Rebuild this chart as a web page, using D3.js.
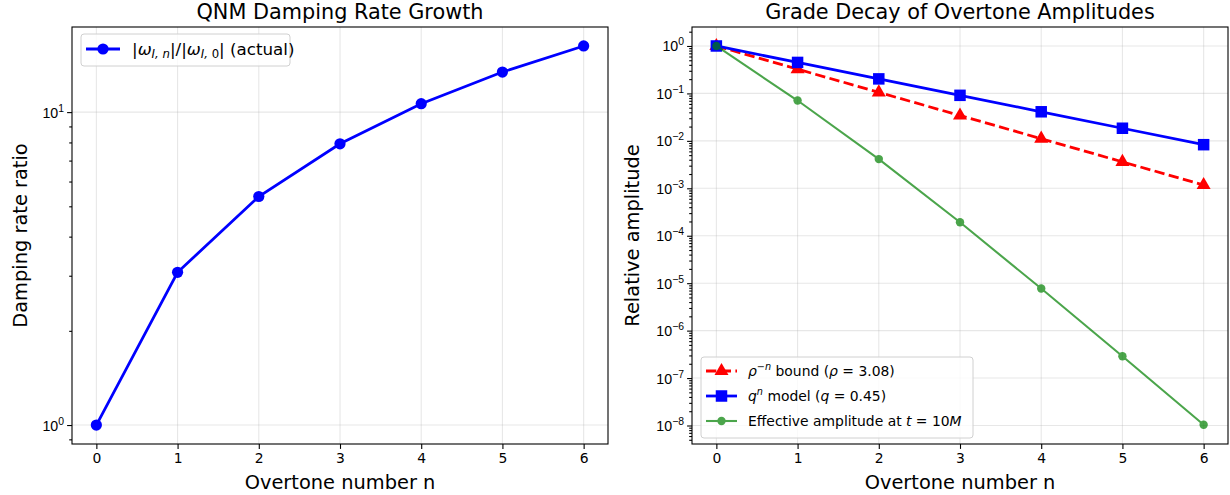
<!DOCTYPE html>
<html>
<head>
<meta charset="utf-8">
<script src="https://cdn.jsdelivr.net/npm/d3@7"></script>
<style>
  body { margin: 0; background: #fff; }
  svg { font-family: "DejaVu Sans", sans-serif; }
  .tick line { stroke: #000; stroke-width: 1.1; }
  .domain { display: none; }
</style>
</head>
<body>
<div id="chart"></div>
<script>
// overtone numbers
var overtones = [0, 1, 2, 3, 4, 5, 6];
// |omega_I,n| / |omega_I,0|
var dampingRatio = [1.0, 3.077, 5.374, 7.92, 10.64, 13.43, 16.27];
// rho^-n bound, rho = 3.08
var rhoBound = [1.0, 0.3247, 0.1054, 0.03422, 0.01111, 0.003608, 0.001171];
// q^n model, q = 0.45
var qModel = [1.0, 0.45, 0.2025, 0.09113, 0.04101, 0.01845, 0.008304];
// effective amplitude at t = 10M
var effAmp = [1.0, 0.0708, 0.00413, 1.92e-4, 7.7e-6, 2.88e-7, 1.04e-8];

var leftExps = [0, 1];
var rightExps = [0, -1, -2, -3, -4, -5, -6, -7, -8];

var W = 1230, H = 495;
var svg = d3.select("#chart").append("svg").attr("width", W).attr("height", H);

function supLabel(sel, exp) {
  sel.append("tspan").text("10");
  sel.append("tspan").attr("dy", -6).attr("font-size", 10.4)
    .text(exp < 0 ? "\u2212" + (-exp) : String(exp));
}

function makePanel(opt) {
  var g = svg.append("g");
  var x = d3.scaleLinear().domain([-0.3, 6.3]).range([opt.x0, opt.x1]);
  var y = d3.scaleLog().domain(opt.ydom).range([opt.y1, opt.y0]);
  var majors = opt.exps.map(function(e) { return Math.pow(10, e); });
  var minors = [];
  var lo = Math.floor(Math.log10(opt.ydom[0])), hi = Math.ceil(Math.log10(opt.ydom[1]));
  for (var e = lo; e < hi; e++) {
    for (var k = 2; k <= 9; k++) {
      var v = k * Math.pow(10, e);
      if (v >= opt.ydom[0] && v <= opt.ydom[1]) minors.push(v);
    }
  }

  // grid
  g.append("g").selectAll("line").data(overtones).enter().append("line")
    .attr("x1", d => x(d)).attr("x2", d => x(d))
    .attr("y1", opt.y0).attr("y2", opt.y1)
    .attr("stroke", "#b0b0b0").attr("stroke-opacity", 0.3).attr("stroke-width", 1.1);
  g.append("g").selectAll("line").data(majors).enter().append("line")
    .attr("x1", opt.x0).attr("x2", opt.x1)
    .attr("y1", d => y(d)).attr("y2", d => y(d))
    .attr("stroke", "#b0b0b0").attr("stroke-opacity", 0.3).attr("stroke-width", 1.1);

  // axes
  var xa = g.append("g").attr("transform", "translate(0," + opt.y1 + ")")
    .call(d3.axisBottom(x).tickValues(overtones).tickSize(4.9).tickPadding(4).tickFormat(d3.format("d")));
  xa.selectAll("text").attr("font-size", 13.9).attr("fill", "#000").attr("font-family", "DejaVu Sans");

  var ya = g.append("g").attr("transform", "translate(" + opt.x0 + ",0)")
    .call(d3.axisLeft(y).tickValues(majors).tickSize(4.9).tickFormat(""));
  g.append("g").attr("transform", "translate(" + opt.x0 + ",0)")
    .call(d3.axisLeft(y).tickValues(minors).tickSize(2.8).tickFormat(""));
  ya.selectAll(".tick").each(function(d, i) {
    var t = d3.select(this).append("text")
      .attr("x", -8).attr("dy", "0.35em").attr("text-anchor", "end")
      .attr("font-size", 14.2).attr("fill", "#000");
    supLabel(t, opt.exps[i]);
  });

  // frame
  g.append("rect").attr("x", opt.x0).attr("y", opt.y0)
    .attr("width", opt.x1 - opt.x0).attr("height", opt.y1 - opt.y0)
    .attr("fill", "none").attr("stroke", "#000").attr("stroke-width", 1.1);

  // titles
  var cx = (opt.x0 + opt.x1) / 2;
  g.append("text").attr("x", cx).attr("y", 19).attr("text-anchor", "middle")
    .attr("font-size", 20.8).text(opt.title);
  g.append("text").attr("x", cx).attr("y", 489).attr("text-anchor", "middle")
    .attr("font-size", 19.4).text("Overtone number n");
  g.append("text").attr("transform", "translate(" + opt.ylabX + "," + ((opt.y0 + opt.y1) / 2) + ") rotate(-90)")
    .attr("text-anchor", "middle").attr("font-size", 19.4).text(opt.ylabel);

  return { g: g, x: x, y: y };
}

function drawSeries(p, vals, st) {
  var line = d3.line().x((d, i) => p.x(overtones[i])).y(d => p.y(d));
  var s = p.g.append("g").attr("opacity", st.alpha || 1);
  s.append("path").datum(vals).attr("d", line).attr("fill", "none")
    .attr("stroke", st.color).attr("stroke-width", st.lw)
    .attr("stroke-dasharray", st.dash || null);
  s.selectAll(".m").data(vals).enter().append("path")
    .attr("transform", (d, i) => "translate(" + p.x(overtones[i]) + "," + p.y(d) + ")")
    .attr("d", d3.symbol().type(st.symbol).size(st.size))
    .attr("fill", st.color);
}

function legendMarker(g, st, x, y, len) {
  var s = g.append("g").attr("opacity", st.alpha || 1);
  s.append("line").attr("x1", x).attr("x2", x + len).attr("y1", y).attr("y2", y)
    .attr("stroke", st.color).attr("stroke-width", st.lw).attr("stroke-dasharray", st.dash || null);
  s.append("path").attr("transform", "translate(" + (x + len / 2) + "," + y + ")")
    .attr("d", d3.symbol().type(st.symbol).size(st.size)).attr("fill", st.color);
}

// ---- left panel
var left = makePanel({
  x0: 72, x1: 608, y0: 27, y1: 444,
  ydom: [Math.pow(10, -0.0606), Math.pow(10, 1.272)],
  exps: leftExps, title: "QNM Damping Rate Growth",
  ylabel: "Damping rate ratio", ylabX: 27
});
var stLeft = { color: "#0000ff", lw: 2.78, symbol: d3.symbolCircle, size: Math.PI * 5.6 * 5.6 };
drawSeries(left, dampingRatio, stLeft);

var lg = left.g.append("g");
lg.append("rect").attr("x", 81).attr("y", 34).attr("width", 209).attr("height", 32).attr("rx", 3)
  .attr("fill", "#fff").attr("fill-opacity", 0.8).attr("stroke", "#d0d0d0").attr("stroke-width", 1);
legendMarker(lg, stLeft, 86, 49, 34);
var lt = lg.append("text").attr("x", 132).attr("y", 55).attr("font-size", 16.7);
lt.append("tspan").text("|");
lt.append("tspan").attr("font-style", "italic").text("\u03c9");
lt.append("tspan").attr("font-style", "italic").attr("font-size", 11.7).attr("dy", 3).text("I, n");
lt.append("tspan").attr("dy", -3).text("|/|");
lt.append("tspan").attr("font-style", "italic").text("\u03c9");
lt.append("tspan").attr("font-style", "italic").attr("font-size", 11.7).attr("dy", 3).text("I, ");
lt.append("tspan").attr("font-size", 11.7).text("0");
lt.append("tspan").attr("dy", -3).text("| (actual)");

// ---- right panel
var right = makePanel({
  x0: 692, x1: 1228, y0: 27, y1: 444,
  ydom: [Math.pow(10, -8.39), Math.pow(10, 0.4)],
  exps: rightExps, title: "Grade Decay of Overtone Amplitudes",
  ylabel: "Relative amplitude", ylabX: 639
});
var stRed = { color: "#ff0000", lw: 2.78, dash: "10.3,4.4", symbol: d3.symbolTriangle, size: 85 };
var stBlue = { color: "#0000ff", lw: 2.78, symbol: d3.symbolSquare, size: 11.5 * 11.5 };
var stGreen = { color: "#008000", lw: 2.08, alpha: 0.7, symbol: d3.symbolCircle, size: Math.PI * 4.2 * 4.2 };
drawSeries(right, rhoBound, stRed);
drawSeries(right, qModel, stBlue);
drawSeries(right, effAmp, stGreen);

var rg = right.g.append("g");
rg.append("rect").attr("x", 701).attr("y", 357).attr("width", 272).attr("height", 81).attr("rx", 3)
  .attr("fill", "#fff").attr("fill-opacity", 0.8).attr("stroke", "#d0d0d0").attr("stroke-width", 1);
legendMarker(rg, stRed, 706, 371, 31);
legendMarker(rg, stBlue, 706, 396, 31);
legendMarker(rg, stGreen, 706, 421, 31);

var t1 = rg.append("text").attr("x", 748).attr("y", 376).attr("font-size", 13.9);
t1.append("tspan").attr("font-style", "italic").text("\u03c1");
t1.append("tspan").attr("font-size", 9.7).attr("dy", -6).text("\u2212");
t1.append("tspan").attr("font-size", 9.7).attr("font-style", "italic").text("n");
t1.append("tspan").attr("dy", 6).text(" bound (");
t1.append("tspan").attr("font-style", "italic").text("\u03c1");
t1.append("tspan").text(" = 3.08)");

var t2 = rg.append("text").attr("x", 748).attr("y", 401).attr("font-size", 13.9);
t2.append("tspan").attr("font-style", "italic").text("q");
t2.append("tspan").attr("font-size", 9.7).attr("font-style", "italic").attr("dy", -6).text("n");
t2.append("tspan").attr("dy", 6).text(" model (");
t2.append("tspan").attr("font-style", "italic").text("q");
t2.append("tspan").text(" = 0.45)");

var t3 = rg.append("text").attr("x", 748).attr("y", 426).attr("font-size", 13.9);
t3.append("tspan").text("Effective amplitude at ");
t3.append("tspan").attr("font-style", "italic").text("t");
t3.append("tspan").text(" = 10");
t3.append("tspan").attr("font-style", "italic").text("M");
</script>
</body>
</html>
